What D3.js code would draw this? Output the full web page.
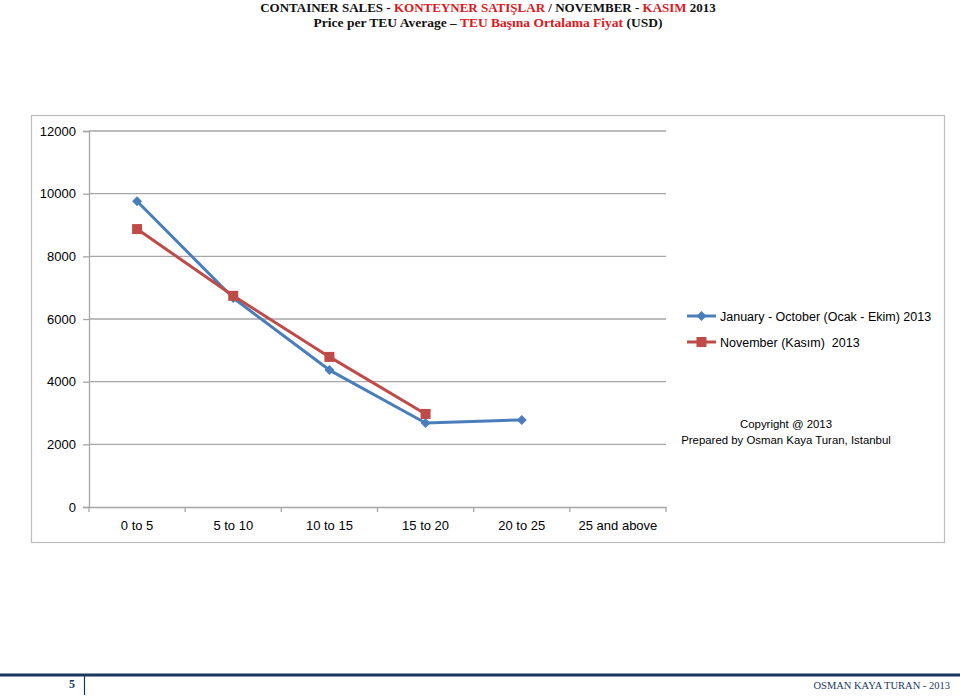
<!DOCTYPE html>
<html><head><meta charset="utf-8">
<script src="https://cdn.jsdelivr.net/npm/d3@7"></script>
<style>body{margin:0;background:#fff}svg{display:block}</style>
</head><body>
<svg id="c" width="960" height="696"></svg>
<script>
const categories = ["0 to 5","5 to 10","10 to 15","15 to 20","20 to 25","25 and above"];
const janOct = [9760, 6670, 4370, 2680, 2780, null];
const november = [8870, 6740, 4790, 2970, null, null];
const yTicks = [0,2000,4000,6000,8000,10000,12000];
const seriesNames = ["January - October (Ocak - Ekim) 2013","November (Kasım)  2013"];
const colors = ["#4a7ebb","#be4b48"];

(function(){
const svg = d3.select("#c");
const lblFont = "Liberation Sans, Arial, sans-serif";

// Title
const t1 = svg.append("text").attr("x",488).attr("y",12).attr("text-anchor","middle")
  .attr("font-family","Liberation Serif, serif").attr("font-weight","bold").attr("font-size",13);
t1.append("tspan").attr("fill","#111").text("CONTAINER SALES - ");
t1.append("tspan").attr("fill","#e0161d").text("KONTEYNER SATIŞLAR");
t1.append("tspan").attr("fill","#111").text(" / NOVEMBER - ");
t1.append("tspan").attr("fill","#e0161d").text("KASIM");
t1.append("tspan").attr("fill","#111").text(" 2013");
const t2 = svg.append("text").attr("x",488).attr("y",27).attr("text-anchor","middle")
  .attr("font-family","Liberation Serif, serif").attr("font-weight","bold").attr("font-size",13.5);
t2.append("tspan").attr("fill","#111").text("Price per TEU Average – ");
t2.append("tspan").attr("fill","#e0161d").text("TEU Başına Ortalama Fiyat");
t2.append("tspan").attr("fill","#111").text(" (USD)");

// Chart frame
svg.append("rect").attr("x",31.5).attr("y",115.5).attr("width",913).attr("height",427)
  .attr("fill","#fff").attr("stroke","#bcbcbc").attr("stroke-width",1.2);

const pl=89, pr=666, pt=131, pb=507;
const x = d3.scaleBand().domain(categories).range([pl,pr]);
const y = d3.scaleLinear().domain([0,12000]).range([pb,pt]);

// gridlines
svg.append("g").selectAll("line").data(yTicks.filter(d=>d>0)).join("line")
  .attr("x1",pl).attr("x2",pr).attr("y1",d=>y(d)).attr("y2",d=>y(d))
  .attr("stroke","#a6a6a6").attr("stroke-width",1.3);

// y axis
const ya = svg.append("g").attr("transform",`translate(${pl},0)`)
  .call(d3.axisLeft(y).tickValues(yTicks).tickSize(6).tickPadding(7).tickFormat(d3.format("d")));
ya.select(".domain").attr("stroke","#a6a6a6").attr("stroke-width",1.3);
ya.selectAll(".tick line").attr("stroke","#a6a6a6").attr("stroke-width",1.3);
ya.selectAll("text").attr("font-family",lblFont).attr("font-size",13).attr("fill","#000");

// x axis
const xa = svg.append("g").attr("transform",`translate(0,${pb})`)
  .call(d3.axisBottom(x).tickSize(0).tickPadding(14));
xa.select(".domain").attr("stroke","#a6a6a6").attr("stroke-width",1.3);
xa.selectAll("text").attr("font-family",lblFont).attr("font-size",13).attr("fill","#000");
const boundaries = categories.map(c=>x(c)).concat([pr]);
xa.append("g").selectAll("line").data(boundaries).join("line")
  .attr("x1",d=>d).attr("x2",d=>d).attr("y1",0).attr("y2",5)
  .attr("stroke","#a6a6a6").attr("stroke-width",1.3);

const cx = c => x(c) + x.bandwidth()/2;
const line = d3.line().defined(d=>d.v!=null).x(d=>cx(d.c)).y(d=>y(d.v));
const blueData = categories.map((c,i)=>({c, v: janOct[i]}));
const redData = categories.map((c,i)=>({c, v: november[i]}));

svg.append("path").datum(blueData).attr("d",line).attr("fill","none")
  .attr("stroke",colors[0]).attr("stroke-width",3).attr("stroke-linejoin","round");
function diamondPath(s){ return `M0,${-s}L${s},0L0,${s}L${-s},0Z`; }
svg.append("g").selectAll("path").data(blueData.filter(d=>d.v!=null)).join("path")
  .attr("d",diamondPath(5)).attr("transform",d=>`translate(${cx(d.c)},${y(d.v)})`)
  .attr("fill",colors[0]);
svg.append("path").datum(redData).attr("d",line).attr("fill","none")
  .attr("stroke",colors[1]).attr("stroke-width",3).attr("stroke-linejoin","round");
svg.append("g").selectAll("rect").data(redData.filter(d=>d.v!=null)).join("rect")
  .attr("x",d=>cx(d.c)-5).attr("y",d=>y(d.v)-5).attr("width",10).attr("height",10)
  .attr("fill",colors[1]);

// legend
const lg = svg.append("g");
const ly = [316, 342];
lg.append("line").attr("x1",687).attr("x2",716).attr("y1",ly[0]).attr("y2",ly[0]).attr("stroke",colors[0]).attr("stroke-width",3);
lg.append("path").attr("d",diamondPath(5)).attr("transform",`translate(701.5,${ly[0]})`).attr("fill",colors[0]);
lg.append("line").attr("x1",687).attr("x2",716).attr("y1",ly[1]).attr("y2",ly[1]).attr("stroke",colors[1]).attr("stroke-width",3);
lg.append("rect").attr("x",696.5).attr("y",ly[1]-5).attr("width",10).attr("height",10).attr("fill",colors[1]);
seriesNames.forEach((n,i)=>{
  lg.append("text").attr("x",720).attr("y",ly[i]+4.5).attr("font-family",lblFont).attr("font-size",12.5)
    .attr("fill","#000").attr("xml:space","preserve").text(n);
});

svg.append("text").attr("x",786).attr("y",428).attr("text-anchor","middle").attr("font-family",lblFont)
  .attr("font-size",11.4).attr("fill","#000").text("Copyright @ 2013");
svg.append("text").attr("x",786).attr("y",444).attr("text-anchor","middle").attr("font-family",lblFont)
  .attr("font-size",11.4).attr("fill","#000").text("Prepared by Osman Kaya Turan, Istanbul");

// footer
svg.append("rect").attr("x",0).attr("y",673.5).attr("width",960).attr("height",3).attr("fill","#17375e");
svg.append("line").attr("x1",84.5).attr("x2",84.5).attr("y1",676).attr("y2",695).attr("stroke","#17375e").attr("stroke-width",1.2);
svg.append("text").attr("x",75).attr("y",688).attr("text-anchor","end").attr("font-family","Liberation Serif, serif")
  .attr("font-weight","bold").attr("font-size",12).attr("fill","#17375e").text("5");
svg.append("text").attr("x",950).attr("y",689).attr("text-anchor","end").attr("font-family","Liberation Serif, serif")
  .attr("font-size",10.5).attr("fill","#17375e").text("OSMAN KAYA TURAN - 2013");
})();
</script>
</body></html>
